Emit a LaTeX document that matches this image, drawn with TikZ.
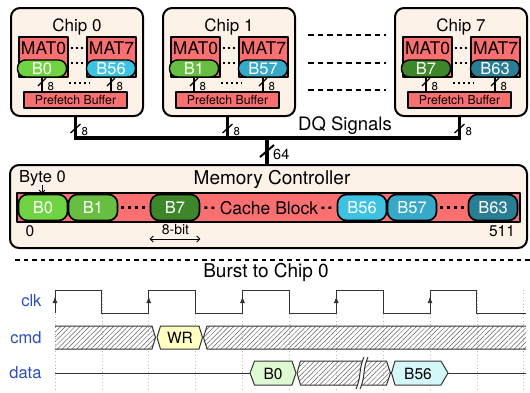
\documentclass[tikz,border=0pt]{standalone}
\usepackage{fontspec}
\setmainfont{TeX Gyre Heros}
\usetikzlibrary{arrows.meta,patterns.meta}

\definecolor{peach}{RGB}{253,242,232}
\definecolor{matred}{RGB}{250,112,112}
\definecolor{gA}{RGB}{112,212,66}
\definecolor{gB}{RGB}{104,190,64}
\definecolor{gC}{RGB}{61,135,42}
\definecolor{bA}{RGB}{62,194,226}
\definecolor{bB}{RGB}{54,168,200}
\definecolor{bC}{RGB}{42,126,148}
\definecolor{lblue}{RGB}{44,78,190}
\definecolor{wrfill}{RGB}{255,255,194}
\definecolor{bzfill}{RGB}{222,250,210}
\definecolor{bffill}{RGB}{212,248,250}
\definecolor{tline}{RGB}{50,50,50}
\definecolor{hatchc}{RGB}{95,95,95}
\definecolor{gridc}{RGB}{185,185,185}

\tikzset{
  fs/.style={font=\fontsize{#1}{#1}\selectfont},
  chipbox/.style={draw, line width=2pt, fill=peach, rounded corners=9pt,
    minimum width=132pt, minimum height=108pt, inner sep=0pt},
  matbox/.style={draw, line width=1.4pt, fill=matred,
    minimum width=49pt, minimum height=40pt, inner sep=0pt},
  chippill/.style={draw, line width=1.4pt, fill=#1, rounded corners=8pt,
    minimum width=49pt, minimum height=17pt, inner sep=0pt, text=white, fs=16.5},
  mcpill/.style={draw, line width=1.6pt, fill=#1, rounded corners=9pt,
    minimum width=49pt, minimum height=26pt, inner sep=0pt, text=white, fs=16.5},
  prefetch/.style={draw, line width=1.6pt, fill=matred,
    minimum width=103pt, minimum height=16pt, inner sep=0pt, fs=12.3},
  wire/.style={line width=2.6pt},
  buswire/.style={line width=3.5pt},
  slash/.style={line width=1.3pt},
  smalldots/.style={line width=2pt, dash pattern=on 2pt off 3pt},
  gapdash/.style={line width=2.6pt, dash pattern=on 5.5pt off 4pt},
  cdots/.style={line width=2.4pt, dash pattern=on 3pt off 4pt},
  sepline/.style={line width=1.8pt, dash pattern=on 4.5pt off 4pt},
  tlabel/.style={fs=16.5, text=lblue, anchor=east},
  tl/.style={draw=tline, line width=1pt},
  hatched/.style={pattern={Lines[angle=45,distance=3.4pt,line width=0.5pt]},
    pattern color=hatchc},
  gridline/.style={draw=gridc, line width=0.7pt, dash pattern=on 0.8pt off 2.6pt},
}

% one DRAM chip: #1 name, #2 left edge, #3 number, #4/#5 first byte and colour, #6/#7 last byte and colour
\newcommand{\chipunit}[7]{%
  \node[chipbox] (#1) at (#2+66,62) {};
  \node[fs=17, anchor=base] (#1-title) at (#2+66,31) {Chip #3};
  \node[matbox] (#1-m0) at (#2+32.5,57) {};
  \node[matbox] (#1-m7) at (#2+100.5,57) {};
  \node[fs=17.5, anchor=base, inner sep=0pt] (#1-m0t) at (#2+32.5,54.5) {MAT0};
  \node[fs=17.5, anchor=base, inner sep=0pt] (#1-m7t) at (#2+100.5,54.5) {MAT7};
  \node[chippill=#5] (#1-p0) at (#2+31,68.5) {#4};
  \node[chippill=#7] (#1-p7) at (#2+100,68.5) {#6};
  \draw[smalldots] (#2+59.5,48) -- (#2+75,48);
  \draw[smalldots] (#2+59.5,63) -- (#2+75,63);
  \node[prefetch] (#1-pf) at (#2+64.5,100) {Prefetch Buffer};
  \draw[wire] (#1-p0.south) -- (#1-p0.south |- #1-pf.north);
  \draw[wire] (#1-p7.south) -- (#1-p7.south |- #1-pf.north);
  \coordinate (#1-s0) at (#1-p0.south |- 0,82);
  \coordinate (#1-s7) at (#1-p7.south |- 0,82);
  \draw[slash] ([shift={(-4,4)}]#1-s0) -- ([shift={(4,-4)}]#1-s0);
  \draw[slash] ([shift={(-4,4)}]#1-s7) -- ([shift={(4,-4)}]#1-s7);
  \node[fs=11.5, anchor=west, inner sep=0pt] (#1-w0) at ([shift={(5.5,5)}]#1-s0) {8};
  \node[fs=11.5, anchor=west, inner sep=0pt] (#1-w7) at ([shift={(5.5,5)}]#1-s7) {8};
  \draw[smalldots] (#2+58,83) -- (#2+79,83);
  \coordinate (#1-bus) at (#1-pf.south |- 0,138);
  \coordinate (#1-sl) at (#1-pf.south |- 0,128.5);
}

\begin{document}
\begin{tikzpicture}[x=1pt, y=-1pt, line join=round]
\useasboundingbox (0,0) rectangle (530,392);

% ---------------- chips ----------------
\chipunit{ca}{11}{0}{B0}{gA}{B56}{bA}
\chipunit{cb}{163}{1}{B1}{gB}{B57}{bB}
\chipunit{cc}{395}{7}{B7}{gC}{B63}{bC}

% chips 2..6 left out
\draw[gapdash] (308,35) -- (386,35);
\draw[gapdash] (308,63) -- (386,63);
\draw[gapdash] (308,90) -- (386,90);

% ---------------- DQ bus ----------------
\draw[buswire, line join=miter] (ca.south -| ca-pf) -- (ca-bus) -- (cc-bus) -- (cc.south -| cc-pf);
\draw[buswire] (cb.south -| cb-pf) -- (cb-bus);
\foreach \c in {ca,cb,cc}{
  \draw[slash] ([shift={(-5,4.5)}]\c-sl) -- ([shift={(5,-4.5)}]\c-sl);
  \node[fs=11.5, anchor=west, inner sep=0pt] (\c-bw) at ([shift={(6,3)}]\c-sl) {8};
}
\node[fs=18.5, anchor=base] (dq) at (345,130) {DQ Signals};

% ---------------- memory controller ----------------
\node[draw, line width=2pt, fill=peach, rounded corners=9pt,
      minimum width=517pt, minimum height=83pt, inner sep=0pt] (mc) at (268.5,206.5) {};
\coordinate (bmid) at (267,138);
\draw[buswire] (bmid) -- (bmid |- mc.north);
\coordinate (bsl) at (267,151);
\draw[line width=2pt] ([shift={(-7,6)}]bsl) -- ([shift={(7,-6)}]bsl);
\node[fs=14.5, anchor=west, inner sep=0pt] (w64) at ([shift={(6,3)}]bsl) {64};

\node[fs=19, anchor=base] (mct) at (272,184) {Memory Controller};
\node[fs=16.5, anchor=base west, inner sep=0pt] (byte) at (19,182.5) {Byte 0};

\node[draw, line width=1.8pt, fill=matred, minimum width=503pt, minimum height=29pt,
      inner sep=0pt] (cbar) at (268.5,207.5) {};
\node[mcpill=gA] (m0) at (43,207.5) {B0};
\node[mcpill=gB] (m1) at (93,207.5) {B1};
\node[mcpill=gC] (m7) at (175,207.5) {B7};
\node[mcpill=bA] (m56) at (362,207.5) {B56};
\node[mcpill=bB] (m57) at (412,207.5) {B57};
\node[mcpill=bC] (m63) at (493,207.5) {B63};
\node[fs=17.5, inner sep=0pt] (cbt) at (269,208) {Cache Block};
\draw[cdots, shorten <=3pt, shorten >=2pt] (m1.east) -- (m7.west);
\draw[cdots, shorten <=4pt, shorten >=3pt] (m7.east) -- (cbt.west);
\draw[cdots, shorten <=3pt, shorten >=3pt] (cbt.east) -- (m56.west);
\draw[cdots, shorten <=3pt, shorten >=2pt] (m57.east) -- (m63.west);

\coordinate (bytetip) at (42,184.5);
\draw[line width=0.9pt, -{Straight Barb[length=3pt,width=6pt]}] (bytetip) -- (bytetip |- m0.north);
\node[fs=15.5, anchor=base] (zero) at (30,236.5) {0};
\node[fs=15.5, anchor=base] (last) at (502,236) {511};
\node[fs=14, anchor=base] (ebit) at (175.5,234.5) {8-bit};
\draw[line width=0.8pt, {Straight Barb[length=3pt,width=6pt]}-{Straight Barb[length=3pt,width=6pt]}]
  (m7.west |- 0,239) -- (m7.east |- 0,239);

% ---------------- timing ----------------
\draw[sepline] (15,260) -- (530,260);
\node[fs=19, anchor=base] (burst) at (266,277) {Burst to Chip 0};

\node[tlabel] (lclk) at (45,301) {clk};
\node[tlabel] (lcmd) at (45,338) {cmd};
\node[tlabel] (ldata) at (45,373) {data};

\foreach \k in {0,...,10}{
  \draw[gridline] (55+46.875*\k,290) -- (55+46.875*\k,392);
}

% clock
\draw[tl] (55,313) -- (55,290) -- (101.9,290) -- (101.9,313) -- (148.75,313)
  -- (148.75,290) -- (195.6,290) -- (195.6,313) -- (242.5,313)
  -- (242.5,290) -- (289.4,290) -- (289.4,313) -- (336.25,313)
  -- (336.25,290) -- (383.1,290) -- (383.1,313) -- (430,313)
  -- (430,290) -- (476.9,290) -- (476.9,313) -- (526,313);
\foreach \x in {55,148.75,242.5,336.25,430}{
  \draw[tl, -{Latex[length=6.5pt,width=5pt]}] (\x,305) -- (\x,296.5);
}

% command bus
\fill[hatched] (55,326) -- (152,326) -- (155.5,337.5) -- (152,349) -- (55,349) -- cycle;
\draw[tl] (55,326) -- (152,326) -- (155.5,337.5) -- (152,349) -- (55,349);
\draw[tl, fill=wrfill] (157,337.5) -- (160.5,326) -- (199,326) -- (202.5,337.5) -- (199,349) -- (160.5,349) -- cycle;
\node[fs=15.5] (wr) at (180,338) {WR};
\fill[hatched] (203.5,337.5) -- (207,326) -- (526,326) -- (526,349) -- (207,349) -- cycle;
\draw[tl] (526,326) -- (207,326) -- (203.5,337.5) -- (207,349) -- (526,349);

% data bus
\draw[tl] (55,373) -- (250,373);
\draw[tl, fill=bzfill] (250,373) -- (254.5,361) -- (292,361) -- (296,373) -- (292,385) -- (254.5,385) -- cycle;
\node[fs=15.5] (db0) at (273,373.5) {B0};
\fill[hatched] (297,373) -- (300.5,361) -- (386.5,361) -- (390.5,373) -- (386.5,385) -- (300.5,385) -- cycle;
\draw[tl] (297,373) -- (300.5,361) -- (386.5,361) -- (390.5,373) -- (386.5,385) -- (300.5,385) -- cycle;
\fill[white] (356,389) .. controls (362,375) and (358,371) .. (364,357)
  -- (368,357) .. controls (362,371) and (366,375) .. (360,389) -- cycle;
\draw[tl] (356,389) .. controls (362,375) and (358,371) .. (364,357);
\draw[tl] (360,389) .. controls (366,375) and (362,371) .. (368,357);
\draw[tl, fill=bffill] (391.5,373) -- (395,361) -- (441,361) -- (448,373) -- (441,385) -- (395,385) -- cycle;
\node[fs=15.5] (db56) at (418,373.5) {B56};
\draw[tl] (448,373) -- (526,373);

\end{tikzpicture}
\end{document}
